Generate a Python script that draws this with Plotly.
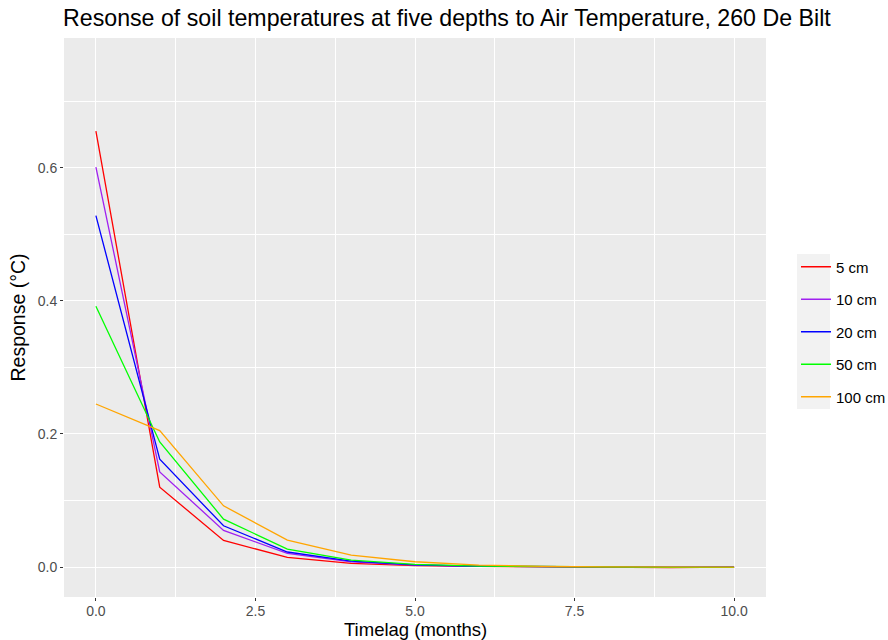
import plotly.graph_objects as go

timelag = [0, 1, 2, 3, 4, 5, 6, 7, 8, 9, 10]
depths = ["5 cm", "10 cm", "20 cm", "50 cm", "100 cm"]
resp_5 = [0.655, 0.120, 0.040, 0.0145, 0.0055, 0.0020, 0.0010, 0.0005, -0.0010, -0.0010, 0.0000]
resp_10 = [0.601, 0.143, 0.055, 0.0205, 0.0078, 0.0030, 0.0012, 0.0005, 0.0002, 0.0000, 0.0000]
resp_20 = [0.528, 0.162, 0.062, 0.0226, 0.0090, 0.0032, 0.0012, 0.0005, 0.0002, 0.0000, 0.0000]
resp_50 = [0.392, 0.188, 0.072, 0.0270, 0.0105, 0.0040, 0.0015, 0.0005, 0.0002, -0.0005, -0.0005]
resp_100 = [0.245, 0.205, 0.092, 0.0406, 0.0180, 0.0080, 0.0030, 0.0010, 0.0004, 0.0001, 0.0000]
series = [resp_5, resp_10, resp_20, resp_50, resp_100]
colors = ["#FF0000", "#A020F0", "#0000FF", "#00FF00", "#FFA500"]

W, H = 888, 640
ML, MR, MT, MB = 64, 122, 38, 43
PW, PH = W - ML - MR, H - MT - MB

fig = go.Figure()
for name, vals, col in zip(depths, series, colors):
    fig.add_trace(go.Scatter(
        x=timelag, y=vals, mode="lines", name=name,
        line=dict(color=col, width=1.3), legendgroup=name,
    ))

axis_common = dict(
    showline=False, zeroline=False, automargin=False,
    gridcolor="white", gridwidth=1.2,
    ticks="outside", ticklen=3, tickwidth=1.1, tickcolor="#333333",
    tickfont=dict(family="Liberation Sans, Arial", size=14, color="#4D4D4D"),
)

def px_x(p):
    return (p - ML) / PW

def px_y(p):
    return (H - MB - p) / PH

fig.add_shape(type="rect", xref="paper", yref="paper",
              x0=px_x(797), x1=px_x(830), y0=px_y(409), y1=px_y(254),
              fillcolor="#F2F2F2", line=dict(width=0), layer="below")

fig.add_annotation(text="Timelag (months)", xref="paper", yref="paper",
                   x=0.5, xanchor="center", y=px_y(640), yanchor="bottom",
                   yshift=-1, borderpad=0,
                   showarrow=False, font=dict(size=18.5, color="black"))

fig.update_layout(
    width=W, height=H,
    margin=dict(l=ML, r=MR, t=MT, b=MB, autoexpand=False),
    paper_bgcolor="white", plot_bgcolor="#EBEBEB",
    font=dict(family="Liberation Sans, Arial", color="black"),
    title=dict(
        text="Resonse of soil temperatures at five depths to Air Temperature, 260 De Bilt",
        x=63 / W, xanchor="left", y=1 - 18 / H, yanchor="middle",
        font=dict(size=23.2, color="black"),
    ),
    xaxis=dict(
        range=[-0.5, 10.5], tickvals=[0, 2.5, 5, 7.5, 10],
        ticktext=["0.0", "2.5", "5.0", "7.5", "10.0"],
        minor=dict(tickvals=[1.25, 3.75, 6.25, 8.75], showgrid=True,
                   gridcolor="white", gridwidth=0.6, ticks=""),
        ticklabelstandoff=-2,
        **axis_common,
    ),
    yaxis=dict(
        range=[-0.045, 0.795], tickvals=[0, 0.2, 0.4, 0.6],
        ticktext=["0.0", "0.2", "0.4", "0.6"],
        minor=dict(tickvals=[0.1, 0.3, 0.5, 0.7], showgrid=True,
                   gridcolor="white", gridwidth=0.6, ticks=""),
        title=dict(text="Response (°C)", font=dict(size=19.5), standoff=6),
        **axis_common,
    ),
    legend=dict(
        x=px_x(796), xanchor="left", y=px_y(332), yanchor="middle",
        bgcolor="rgba(0,0,0,0)", borderwidth=0,
        font=dict(size=15, color="black"),
        traceorder="grouped", tracegroupgap=10,
        itemwidth=30,
    ),
    showlegend=True,
)

fig.write_html("out.html")
